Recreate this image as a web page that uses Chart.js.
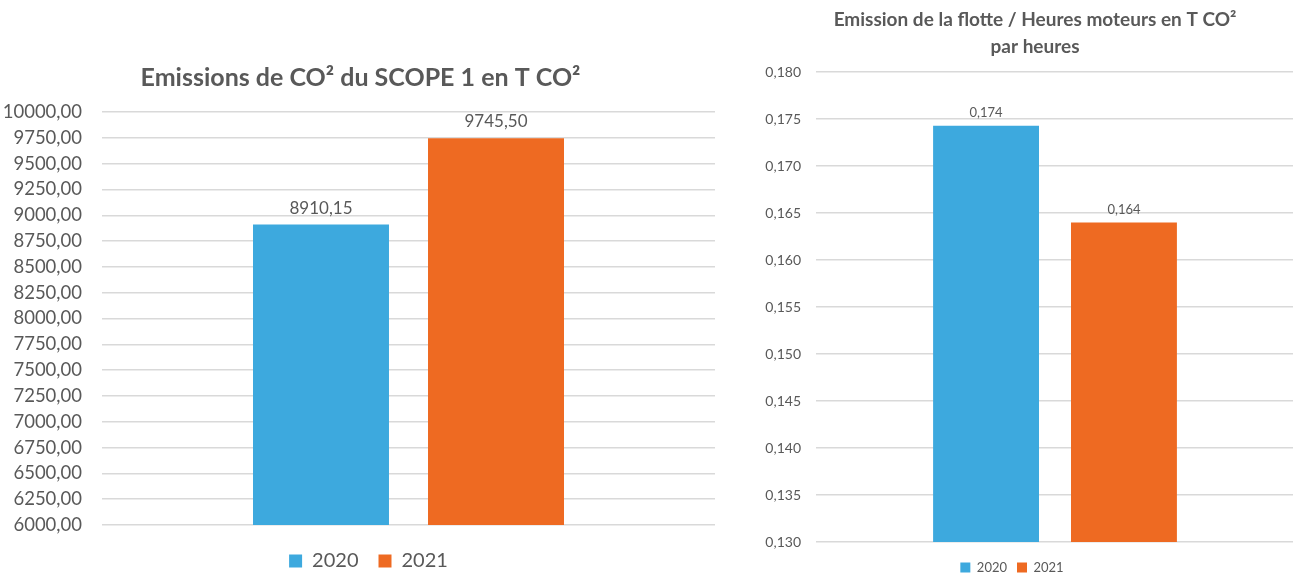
<!DOCTYPE html>
<html>
<head>
<meta charset="utf-8">
<script src="https://cdn.jsdelivr.net/npm/chart.js@4"></script>
<style>
  html, body { margin: 0; padding: 0; background: #fff; overflow: hidden; width: 1293px; height: 577px; }
  .box { position: absolute; }
  #left { left: -6px; top: 0; width: 742px; height: 577px; }
  #right { left: 740px; top: 0; width: 560px; height: 577px; }
</style>
</head>
<body>
<div class="box" id="left"><canvas id="scopeChart"></canvas></div>
<div class="box" id="right"><canvas id="flotteChart"></canvas></div>
<script>
// data
const years = ['2020', '2021'];
const scopeValues = [8910.15, 9745.50];
const flotteValues = [0.1743, 0.164];
const colors = ['#3DA9DE', '#EE6A22'];

const textGrey = '#595959';
const gridGrey = '#d9d9d9';
const fontFamily = 'Lato, "Open Sans", sans-serif';

function frNumber(v, decimals) {
    return v.toFixed(decimals).replace('.', ',');
}

// draws the value above each bar
const valueLabels = {
    id: 'valueLabels',
    afterDatasetsDraw: function(chart, args, opts) {
        const ctx = chart.ctx;
        ctx.save();
        ctx.fillStyle = textGrey;
        ctx.font = opts.size + 'px ' + fontFamily;
        ctx.textAlign = 'center';
        ctx.textBaseline = 'bottom';
        chart.data.datasets.forEach((ds, i) => {
            chart.getDatasetMeta(i).data.forEach((bar, j) => {
                ctx.fillText(frNumber(ds.data[j], opts.decimals), bar.x, bar.y - opts.offset);
            });
        });
        ctx.restore();
    }
};

// nudges the title and legend boxes a little, as in the original
const boxShift = {
    id: 'boxShift',
    afterLayout: function(chart, args, opts) {
        const move = (b, s) => {
            if (!b || !s) return;
            b.left += s.x; b.right += s.x;
            b.top += s.y; b.bottom += s.y;
        };
        move(chart.titleBlock, opts.title);
        move(chart.legend, opts.legend);
        if (chart.legend && chart.legend.adjustHitBoxes) chart.legend.adjustHitBoxes();
    }
};

function buildChart(id, values, cfg) {
    return new Chart(document.getElementById(id), {
        type: 'bar',
        data: {
            labels: [''],
            datasets: years.map((y, i) => ({
                label: y,
                data: [values[i]],
                backgroundColor: colors[i],
                categoryPercentage: cfg.catPct,
                barPercentage: cfg.barPct
            }))
        },
        options: {
            responsive: true,
            maintainAspectRatio: false,
            animation: false,
            layout: { padding: cfg.padding },
            scales: {
                x: { display: false },
                y: {
                    min: cfg.min,
                    max: cfg.max,
                    afterFit: function(scale) { scale.width = cfg.axisWidth; },
                    ticks: {
                        stepSize: cfg.step,
                        color: textGrey,
                        padding: cfg.tickPad,
                        font: { family: fontFamily, size: cfg.tickSize },
                        callback: v => frNumber(v, cfg.tickDecimals)
                    },
                    grid: { color: gridGrey, lineWidth: 1.5, drawTicks: false },
                    border: { display: false }
                }
            },
            plugins: {
                title: {
                    display: true,
                    text: cfg.title,
                    color: textGrey,
                    font: { family: fontFamily, size: cfg.titleSize, weight: 'bold', lineHeight: cfg.titleLine },
                    padding: cfg.titlePad
                },
                legend: {
                    position: 'bottom',
                    labels: {
                        color: textGrey,
                        boxWidth: cfg.legendBox,
                        boxHeight: cfg.legendBox,
                        padding: cfg.legendPad,
                        font: { family: fontFamily, size: cfg.legendSize }
                    }
                },
                tooltip: { enabled: false },
                valueLabels: cfg.labels,
                boxShift: cfg.shift
            }
        },
        plugins: [valueLabels, boxShift]
    });
}

buildChart('scopeChart', scopeValues, {
    title: 'Emissions de CO² du SCOPE 1 en T CO²',
    titleSize: 25, titleLine: 1.2,
    titlePad: { top: 63, bottom: 19 },
    min: 6000, max: 10000, step: 250, tickDecimals: 2,
    tickSize: 18.5, tickPad: 20, axisWidth: 108,
    catPct: 0.571, barPct: 0.777,
    padding: { top: 0, right: 21, bottom: 2, left: 0 },
    legendBox: 13, legendSize: 20, legendPad: 20,
    shift: { title: { x: 6, y: 0 }, legend: { x: 14, y: 6 } },
    labels: { size: 17, decimals: 2, offset: 8 }
});

buildChart('flotteChart', flotteValues, {
    title: ['Emission de la flotte / Heures moteurs en T CO²', 'par heures'],
    titleSize: 19, titleLine: 1.4,
    titlePad: { top: 7, bottom: 12 },
    min: 0.13, max: 0.18, step: 0.005, tickDecimals: 3,
    tickSize: 14, tickPad: 15, axisWidth: 76,
    catPct: 0.577, barPct: 0.768,
    padding: { top: 0, right: 6, bottom: 2, left: 0 },
    legendBox: 10, legendSize: 13, legendPad: 10,
    shift: { title: { x: 18, y: 0 }, legend: { x: -5, y: 9 } },
    labels: { size: 13, decimals: 3, offset: 6 }
});
</script>
</body>
</html>
